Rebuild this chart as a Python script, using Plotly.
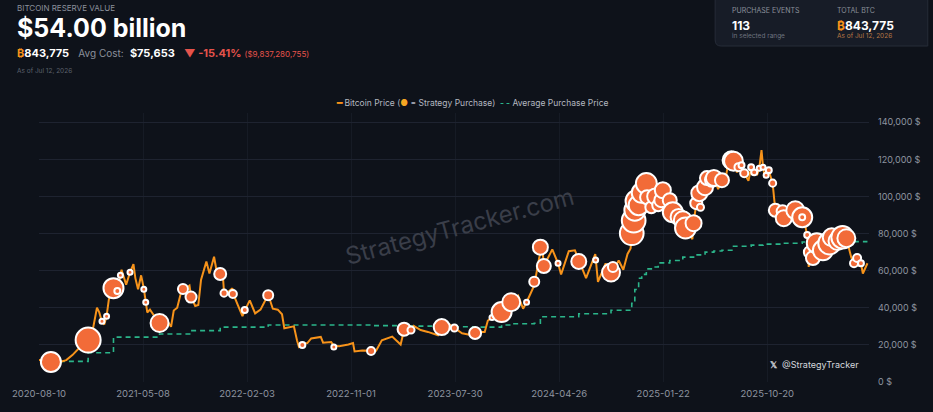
import plotly.graph_objects as go

# --- Bitcoin price ---
price_dates = [
    "2020-08-10", "2020-08-20", "2020-09-10", "2020-10-01", "2020-10-20", "2020-11-05", "2020-11-20",
    "2020-12-05", "2020-12-16", "2020-12-27", "2021-01-08", "2021-01-14", "2021-01-21", "2021-01-27",
    "2021-02-02", "2021-02-08", "2021-02-20", "2021-02-26", "2021-03-02", "2021-03-10", "2021-03-13",
    "2021-03-25", "2021-04-04", "2021-04-13", "2021-04-18", "2021-04-25", "2021-05-03", "2021-05-10",
    "2021-05-15", "2021-05-19", "2021-05-26", "2021-06-05", "2021-06-12", "2021-06-20", "2021-06-30",
    "2021-07-08", "2021-07-20", "2021-07-27", "2021-08-05", "2021-08-14", "2021-08-20", "2021-09-06",
    "2021-09-10", "2021-09-21", "2021-09-29", "2021-10-06", "2021-10-20", "2021-10-28", "2021-11-09",
    "2021-11-18", "2021-11-25", "2021-12-02", "2021-12-05", "2021-12-15", "2021-12-27", "2021-12-29",
    "2022-01-10", "2022-01-22", "2022-01-28", "2022-02-10", "2022-02-24", "2022-03-10", "2022-03-30",
    "2022-04-11", "2022-04-24", "2022-05-05", "2022-05-11", "2022-05-25", "2022-06-05", "2022-06-13",
    "2022-06-18", "2022-06-27", "2022-07-10", "2022-07-20", "2022-08-14", "2022-08-20", "2022-09-10",
    "2022-09-17", "2022-10-01", "2022-10-25", "2022-11-06", "2022-11-10", "2022-11-30", "2022-12-23",
    "2023-01-05", "2023-01-20", "2023-02-16", "2023-03-10", "2023-03-19", "2023-04-06", "2023-04-13",
    "2023-05-01", "2023-05-20", "2023-06-15", "2023-06-25", "2023-07-13", "2023-07-28", "2023-08-17",
    "2023-09-11", "2023-09-20", "2023-10-15", "2023-10-23", "2023-11-03", "2023-11-15", "2023-11-28",
    "2023-12-05", "2023-12-23", "2024-01-10", "2024-01-23", "2024-02-01", "2024-02-21", "2024-03-05",
    "2024-03-13", "2024-03-17", "2024-04-08", "2024-04-23", "2024-05-01", "2024-05-21", "2024-06-06",
    "2024-06-16", "2024-07-05", "2024-07-29", "2024-08-05", "2024-08-25", "2024-09-06", "2024-09-13",
    "2024-09-28", "2024-10-10", "2024-10-21", "2024-10-29", "2024-11-01", "2024-11-06", "2024-11-09",
    "2024-11-14", "2024-11-19", "2024-11-27", "2024-12-05", "2024-12-09", "2024-12-12", "2024-12-22",
    "2025-01-01", "2025-01-09", "2025-01-17", "2025-01-21", "2025-02-08", "2025-02-16", "2025-03-03",
    "2025-03-10", "2025-03-14", "2025-03-21", "2025-04-08", "2025-04-11", "2025-04-18", "2025-04-26",
    "2025-04-29", "2025-05-11", "2025-05-16", "2025-05-29", "2025-06-03", "2025-06-14", "2025-06-24",
    "2025-07-03", "2025-07-14", "2025-07-19", "2025-07-24", "2025-08-02", "2025-08-06", "2025-08-14",
    "2025-08-21", "2025-09-01", "2025-09-08", "2025-09-16", "2025-09-24", "2025-09-29", "2025-10-05",
    "2025-10-09", "2025-10-13", "2025-10-17", "2025-10-24", "2025-11-03", "2025-11-10", "2025-11-21",
    "2025-11-29", "2025-12-02", "2025-12-18", "2026-01-01", "2026-01-12", "2026-01-19", "2026-01-27",
    "2026-02-01", "2026-02-05", "2026-02-08", "2026-02-16", "2026-02-26", "2026-03-06", "2026-03-14",
    "2026-03-24", "2026-03-31", "2026-04-06", "2026-04-14", "2026-04-21", "2026-05-04", "2026-05-14",
    "2026-05-27", "2026-06-03", "2026-06-11", "2026-06-16", "2026-06-21", "2026-06-26", "2026-07-08",
]
price_values = [
    11800, 11700, 10600, 10700, 11800, 14500, 17800,
    19000, 22400, 27000, 40000, 37500, 32500, 31000,
    35500, 44500, 52000, 46500, 49000, 57000, 60500,
    52500, 59000, 63500, 56000, 50000, 57500, 50500,
    43500, 37500, 39000, 36000, 35500, 32000, 35000,
    33500, 29800, 38500, 40000, 47500, 49500, 52000,
    46000, 41000, 41500, 55000, 65000, 58500, 67500,
    57000, 58000, 57000, 48500, 48500, 50500, 47500,
    41500, 35500, 38500, 44000, 37000, 39000, 47000,
    39500, 39000, 36500, 29000, 29500, 30000, 22500,
    19000, 20500, 21000, 23500, 24300, 21200, 21500,
    19500, 19300, 20200, 21000, 16500, 17000, 16800,
    16900, 22500, 24500, 20200, 28000, 28200, 30300,
    28000, 27000, 25200, 30500, 31300, 29300, 26300,
    25200, 27000, 27000, 33000, 35000, 37500, 37800,
    44000, 43500, 46500, 39500, 43000, 52000, 67000,
    73000, 62500, 71500, 64000, 58000, 70500, 71000,
    66000, 56000, 69000, 54000, 64000, 56000, 60000,
    65500, 60500, 69000, 72000, 80000, 87000, 92600,
    97500, 95000, 102000, 98000, 107000, 100000, 94000,
    100000, 95000, 98000, 104000, 98000, 92000, 89000,
    80000, 87000, 83000, 77000, 85600, 96000, 102000,
    94500, 105000, 110000, 108000, 110000, 104000, 108500,
    109500, 121500, 119500, 119000, 113000, 115500, 117000,
    112500, 108500, 115500, 113000, 112000, 115000, 125000,
    116000, 111000, 111500, 114000, 107000, 92500, 85000,
    92000, 88000, 86500, 92500, 94500, 89000, 84000,
    79000, 62000, 70000, 67000, 74500, 66000, 71000,
    68000, 74500, 78000, 73000, 76000, 78000, 77500,
    67000, 64000, 67000, 63000, 64000, 58500, 64000,
]

# --- Strategy purchases: date, price paid, BTC bought ---
purchase_dates = [
    "2020-09-10", "2020-12-16", "2021-01-21", "2021-02-02", "2021-02-20", "2021-03-02", "2021-03-10",
    "2021-04-04", "2021-05-10", "2021-05-15", "2021-06-20", "2021-08-20", "2021-09-10", "2021-11-25",
    "2021-12-05", "2021-12-28", "2022-01-28", "2022-03-30", "2022-06-27", "2022-09-17", "2022-12-23",
    "2023-03-19", "2023-04-06", "2023-06-25", "2023-07-28", "2023-09-20", "2023-11-03", "2023-11-28",
    "2023-12-23", "2024-02-01", "2024-02-21", "2024-03-08", "2024-03-17", "2024-04-23", "2024-06-16",
    "2024-07-30", "2024-09-08", "2024-09-13",
    "2024-11-01", "2024-11-06", "2024-11-09", "2024-11-14", "2024-11-19", "2024-11-27", "2024-12-09",
    "2024-12-11", "2024-12-22", "2025-01-01", "2025-01-09", "2025-01-17", "2025-01-21", "2025-02-08",
    "2025-02-16", "2025-03-03", "2025-03-14", "2025-03-21", "2025-04-11", "2025-04-18", "2025-04-26",
    "2025-04-29", "2025-05-11", "2025-05-16", "2025-05-29", "2025-06-03", "2025-06-24", "2025-07-19",
    "2025-07-24", "2025-08-06", "2025-08-14", "2025-08-21", "2025-09-08", "2025-09-16", "2025-09-29",
    "2025-10-09", "2025-10-17", "2025-10-24", "2025-11-03", "2025-11-10", "2025-11-29", "2025-12-02",
    "2026-01-01", "2026-01-19", "2026-01-19", "2026-02-01", "2026-02-08", "2026-02-16", "2026-02-26",
    "2026-03-14", "2026-03-31", "2026-04-06", "2026-04-21", "2026-05-04", "2026-05-14", "2026-06-03",
    "2026-06-11", "2026-06-21",
]
purchase_prices = [
    10800, 22600, 32800, 35500, 50600, 49000, 57600,
    59200, 50000, 43000, 31800, 50100, 45800, 58200,
    47900, 47400, 38800, 46800, 19900, 18800, 16700,
    28500, 28000, 29600, 29100, 26400, 34800, 37700,
    43000, 43000, 54000, 72700, 62500, 64000, 65000,
    65700, 59000, 62000,
    80200, 87000, 92600, 97500, 95300, 102000, 107000,
    99600, 94200, 100000, 95300, 98000, 103400, 98000,
    91500, 89000, 87200, 83000, 85600, 96400, 101800,
    94200, 105000, 109900, 109000, 110000, 108800, 119500,
    119000, 115800, 116900, 112500, 115800, 113000, 115200,
    115800, 111500, 114200, 107200, 92600, 92000, 88300,
    92600, 88800, 88800, 79200, 70000, 66800, 74800,
    71000, 74800, 78000, 76000, 78000, 77500, 64000,
    66800, 64000,
]
purchase_btc = [
    19200, 30000, 800, 1200, 19200, 1700, 1200,
    1200, 1200, 800, 15500, 4800, 5800, 6900,
    2400, 3100, 1700, 4800, 1700, 1200, 3100,
    8100, 2400, 12300, 2400, 6900, 1200, 19200,
    15500, 1200, 4800, 10800, 9400, 1200, 10800,
    1200, 15500, 4800,
    27000, 27000, 21000, 24000, 19200, 19200, 21000,
    9400, 6900, 12300, 6900, 9400, 12300, 9400,
    19200, 12300, 15500, 21000, 12300, 6900, 12300,
    2400, 12300, 9400, 9400, 12300, 9400, 15500,
    17000, 3100, 1700, 3100, 1700, 1700, 1200,
    1200, 1200, 1700, 2400, 8100, 6900, 12300,
    15500, 19200, 1700, 1700, 6900, 9400, 19200,
    19200, 24000, 15500, 15500, 24000, 15500, 3100,
    3100, 1700,
]

# --- Average purchase price (step line) ---
avg_dates = [
    "2020-09-10", "2020-12-16", "2021-02-20", "2021-06-20", "2021-09-10", "2021-11-25", "2022-03-30",
    "2022-12-23", "2023-03-19", "2023-06-25", "2023-09-20", "2023-11-28", "2023-12-23", "2024-02-21",
    "2024-03-08", "2024-06-16", "2024-09-08", "2024-11-01", "2024-11-09", "2024-11-19", "2024-11-27",
    "2024-12-09", "2024-12-22", "2025-01-09", "2025-02-08", "2025-03-14", "2025-04-11", "2025-05-11",
    "2025-06-03", "2025-06-24", "2025-07-24", "2025-09-08", "2025-10-09", "2025-11-29", "2026-01-19",
    "2026-02-26", "2026-05-04", "2026-07-08",
]
avg_values = [
    11100, 15800, 24200, 25900, 27700, 29600, 30700,
    30400, 30100, 29800, 29600, 30700, 31400, 31700,
    35200, 36800, 38700, 42400, 49900, 55900, 58000,
    61000, 62000, 64200, 65500, 67300, 68500, 70000,
    70600, 71000, 73200, 73800, 74300, 74800, 75500,
    75700, 75653, 75653,
]

x_ticks = ["2020-08-10", "2021-05-08", "2022-02-03", "2022-11-01",
           "2023-07-30", "2024-04-26", "2025-01-22", "2025-10-20"]
y_ticks = [0, 20000, 40000, 60000, 80000, 100000, 120000, 140000]
y_labels = ["0 $", "20,000 $", "40,000 $", "60,000 $", "80,000 $", "100,000 $", "120,000 $", "140,000 $"]

BG = "#0e121a"
ORANGE = "#f7931a"
BUBBLE = "#f26b38"
GREEN = "#2bb58a"
GREY = "#8b909a"
FONT = "Inter, Liberation Sans, Arial, sans-serif"

W, H = 933, 412
ML, MR, MT, MB = 33, 53, 113, 30


def px(x):
    return (x - ML) / (W - ML - MR)


def py(y):
    return (H - MB - y) / (H - MT - MB)


fig = go.Figure()

fig.add_trace(go.Scatter(
    x=avg_dates, y=avg_values, mode="lines", line_shape="hv",
    line=dict(color=GREEN, width=1.6, dash="5px,4px"), hoverinfo="skip",
))
fig.add_trace(go.Scatter(
    x=price_dates, y=price_values, mode="lines",
    line=dict(color=ORANGE, width=2), hoverinfo="skip",
))
fig.add_trace(go.Scatter(
    x=purchase_dates, y=purchase_prices, mode="markers",
    marker=dict(size=purchase_btc, sizemode="area", sizeref=96, sizemin=2.5, opacity=1,
                color=BUBBLE, line=dict(color="white", width=2)),
    hoverinfo="skip",
))

# top-right stats box
x0, x1 = px(723), px(940)
yt, yb = py(-5), py(46)
rx, ry = 6 / (W - ML - MR), 6 / (H - MT - MB)
fig.add_shape(
    type="path", xref="paper", yref="paper",
    path=f"M {x0},{yt} L {x0},{yb + ry} Q {x0},{yb} {x0 + rx},{yb} L {x1},{yb} L {x1},{yt} Z",
    fillcolor="#171c27", line=dict(color="#262c38", width=1), layer="below",
)

annotations = [
    (9, 8, "BITCOIN RESERVE VALUE", 8, GREY),
    (8, 28, "<b>$54.00 billion</b>", 25, "#ffffff"),
    (9, 53, f"<span style='color:{ORANGE}'><b>₿</b></span><b>843,775</b>"
            f"   <span style='color:{GREY};font-size:10px'>Avg Cost:</span>  <b>$75,653</b>"
            f"   <span style='color:#e5534b'><b>▼ -15.41%</b></span>"
            f" <span style='color:#e5534b;font-size:8px'>($9,837,280,755)</span>", 11, "#ffffff"),
    (9, 71, "As of Jul 12, 2026", 6.5, "#5d626d"),
    (738, 10, "PURCHASE EVENTS", 7, GREY),
    (738, 25, "<b>113</b>", 12, "#ffffff"),
    (738, 36, "in selected range", 6.5, "#6f7480"),
    (845, 10, "TOTAL BTC", 7, GREY),
    (845, 25, f"<span style='color:{ORANGE}'><b>₿</b></span><b>843,775</b>", 12, "#ffffff"),
    (845, 36, "As of Jul 12, 2026", 6.5, "#b87845"),
    (777, 364, "<b>𝕏</b>  @StrategyTracker", 9, "#d5d8de"),
]
for ax, ay, text, size, color in annotations:
    fig.add_annotation(
        x=px(ax), y=py(ay), xref="paper", yref="paper", text=text, showarrow=False,
        xanchor="left", yanchor="middle", font=dict(size=size, color=color, family=FONT),
    )

# legend row
fig.add_annotation(
    x=px(475), y=py(103), xref="paper", yref="paper", showarrow=False,
    xanchor="center", yanchor="middle", font=dict(size=8.5, color="#b4b8c0", family=FONT),
    text=(f"<b><span style='color:{ORANGE}'>━</span></b> Bitcoin Price ("
          f"<span style='color:#f5a623'>●</span> = Strategy Purchase)  "
          f"<b><span style='color:{GREEN}'>- -</span></b> Average Purchase Price"),
)

# watermark
fig.add_annotation(
    x=px(462), y=py(226), xref="paper", yref="paper", showarrow=False,
    text="StrategyTracker.com", textangle=-15,
    font=dict(size=24, color="#3a3e49", family=FONT),
)

fig.update_layout(
    width=W, height=H,
    margin=dict(l=ML, r=MR, t=MT, b=MB),
    paper_bgcolor=BG, plot_bgcolor=BG,
    showlegend=False,
    font=dict(family=FONT, color=GREY),
    xaxis=dict(
        range=["2020-08-10", "2026-07-12"], tickvals=x_ticks, tickformat="%Y-%m-%d",
        showgrid=True, gridcolor="#161b25", gridwidth=1, zeroline=False, showline=False,
        tickfont=dict(size=9.5, color="#8f95a0"), ticklabelstandoff=4,
    ),
    yaxis=dict(
        range=[0, 145000], side="right", tickvals=y_ticks, ticktext=y_labels,
        showgrid=True, gridcolor="#1e2330", gridwidth=1, zeroline=False, showline=False,
        tickfont=dict(size=9, color="#8f95a0"), ticklabelstandoff=8,
    ),
)

# page margin off so the figure fills the window like the original
fig.write_html(
    "out.html",
    config={"displayModeBar": False},
    post_script=f"document.body.style.margin='0';document.body.style.background='{BG}';",
)
